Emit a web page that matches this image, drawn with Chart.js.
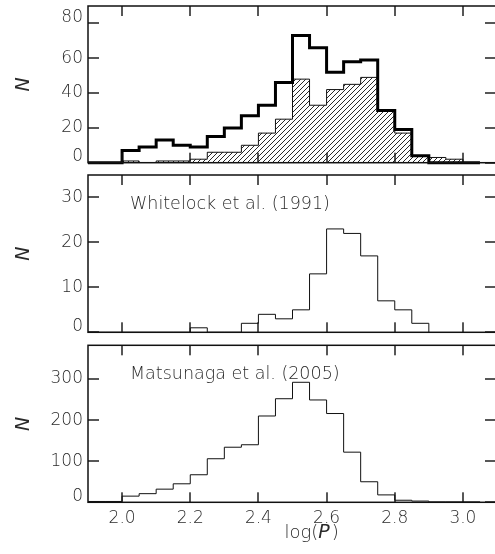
<!DOCTYPE html>
<html><head><meta charset="utf-8">
<script src="https://cdn.jsdelivr.net/npm/chart.js@4.4.1/dist/chart.umd.min.js"></script>
<style>
html,body{margin:0;padding:0;background:#fff;overflow:hidden;width:495px;height:554px}
.wrap{position:absolute;left:0;width:497px}
canvas{display:block}
</style></head><body>
<div class="wrap" style="top:0"><canvas id="c1" width="497" height="170"></canvas></div>
<div class="wrap" style="top:170px"><canvas id="c2" width="497" height="170"></canvas></div>
<div class="wrap" style="top:340px"><canvas id="c3" width="497" height="214"></canvas></div>
<script>
// ---- data (bins of log P, left edges) ----
const binEdges = [1.90,1.95,2.00,2.05,2.10,2.15,2.20,2.25,2.30,2.35,2.40,2.45,2.50,2.55,2.60,2.65,2.70,2.75,2.80,2.85,2.90,2.95,3.00,3.05];
const xTickValues = [2.0,2.2,2.4,2.6,2.8,3.0];
// top panel: all stars (thick outline) and hatched subsample
const allCounts     = [0,0,7,9,13,10,9,15,20,27,33,46,73,66,52,58,59,30,19,4,0,0,0];
const hatchedCounts = [0,0,1,0,1,1,2,6,6,10,17,25,48,33,42,45,49,30,17,4,3,2];
// middle panel: Whitelock et al. (1991)
const whitelockCounts = [0,0,0,0,0,0,1,0,0,2,4,3,5,13,23,22,17,7,5,2];
// bottom panel: Matsunaga et al. (2005)
const matsunagaCounts = [2,2,15,21,32,45,67,106,134,140,210,252,292,249,216,122,50,18,5,3,1,1,1];
const yTicksTop = [0,20,40,60,80];
const yTicksMid = [0,10,20,30];
const yTicksBot = [0,100,200,300];
const yMaxTop = 90, yMaxMid = 35, yMaxBot = 382;
const noteMid = 'Whitelock et al. (1991)';
const noteBot = 'Matsunaga et al. (2005)';
const yTitle = 'N';

// ---- helpers ----
const FAM = "'DejaVu Sans', 'Liberation Sans', sans-serif";
const TXT = '#2a2a2a';
function stepPoints(counts){
  const pts = [{x: binEdges[0], y: 0}];
  counts.forEach((c, i) => pts.push({x: binEdges[i], y: c}));
  pts.push({x: binEdges[counts.length], y: 0});
  return pts;
}
function makeHatch(){
  const pc = document.createElement('canvas'); pc.width = 5; pc.height = 5;
  const p = pc.getContext('2d');
  p.strokeStyle = '#111'; p.lineWidth = 0.9;
  p.beginPath();
  p.moveTo(0,5); p.lineTo(5,0);
  p.moveTo(-1,1); p.lineTo(1,-1);
  p.moveTo(4,6); p.lineTo(6,4);
  p.stroke();
  return document.getElementById('c1').getContext('2d').createPattern(pc, 'repeat');
}

const panelCfg = {};   // per-canvas tick values / notes

const frameTicks = {
  id: 'frameTicks',
  afterDraw(chart){
    const cfg = panelCfg[chart.canvas.id];
    const ctx = chart.ctx, a = chart.chartArea;
    const x = chart.scales.x, y = chart.scales.y;
    ctx.save();
    ctx.fillStyle = '#111';
    for (const v of xTickValues){
      const px = Math.round(x.getPixelForValue(v));
      ctx.fillRect(px - 0.7, a.bottom - 10, 1.4, 10);
      ctx.fillRect(px - 0.7, a.top, 1.4, 10);
    }
    for (const v of cfg.yTicks){
      const py = Math.round(y.getPixelForValue(v));
      ctx.fillRect(a.left, py - 0.7, 11, 1.4);
      ctx.fillRect(a.right - 12, py - 0.7, 12, 1.4);
    }
    ctx.strokeStyle = '#111'; ctx.lineWidth = 1.5;
    ctx.strokeRect(a.left, a.top, a.right - a.left, a.bottom - a.top);
    if (cfg.note){
      ctx.fillStyle = TXT;
      ctx.font = `200 17.5px ${FAM}`;
      ctx.textBaseline = 'alphabetic'; ctx.textAlign = 'left';
      ctx.fillText(cfg.note, a.left + 42, a.top + 33.5);
    }
    if (cfg.showX){
      ctx.fillStyle = TXT; ctx.textBaseline = 'alphabetic'; ctx.textAlign = 'left';
      const f1 = `200 18px ${FAM}`, f2 = `italic 200 19px ${FAM}`;
      ctx.font = f1; const w1 = ctx.measureText('log(').width, w3 = ctx.measureText(')').width;
      ctx.font = f2; const w2 = ctx.measureText('P').width;
      const cx = (x.getPixelForValue(2.5) + x.getPixelForValue(2.6)) / 2 + 2;
      let sx = cx - (w1 + w2 + w3 + 2) / 2; const by = a.bottom + 36;
      ctx.font = f1; ctx.fillText('log(', sx, by); sx += w1;
      ctx.font = f2; ctx.fillText('P', sx, by); sx += w2 + 2;
      ctx.font = f1; ctx.fillText(')', sx, by);
    }
    ctx.restore();
  }
};

function makePanel(id, datasets, yMax, yTicks, raised, padTop, padBottom, showX, note){
  panelCfg[id] = {yTicks, note, showX};
  return new Chart(document.getElementById(id), {
    type: 'line',
    data: {datasets},
    options: {
      responsive: false, animation: false,
      layout: {autoPadding: false, padding: {top: padTop, bottom: padBottom, left: 0, right: 0}},
      elements: {point: {radius: 0}, line: {tension: 0}},
      plugins: {legend: {display: false}, tooltip: {enabled: false}},
      scales: {
        x: {type: 'linear', min: 1.9, max: 3.1, display: showX,
          afterBuildTicks: s => { s.ticks = xTickValues.map(v => ({value: v})); },
          afterFit: s => { s.height = showX ? 51.7 : 0; s.paddingLeft = 0; s.paddingRight = 0; },
          grid: {display: false, drawTicks: false}, border: {display: false},
          ticks: {autoSkip: false, maxRotation: 0, padding: 6, color: TXT,
            font: {family: FAM, size: 17, weight: 200},
            callback: v => Number(v).toFixed(1)}},
        y: {type: 'linear', min: 0, max: yMax,
          afterBuildTicks: s => { s.ticks = yTicks.map(v => ({value: v})); },
          afterFit: s => { s.width = 88; s.paddingTop = 0; s.paddingBottom = 0; },
          grid: {display: false, drawTicks: false}, border: {display: false},
          ticks: {autoSkip: false, padding: 5, color: TXT,
            font: {family: FAM, size: 17, weight: 200, lineHeight: 0.7},
            callback: v => raised.includes(v) ? [String(v), ''] : String(v)},
          title: {display: true, text: yTitle, color: TXT,
            font: {family: FAM, size: 19, style: 'italic', weight: 200},
            padding: {top: 13, bottom: 0}}}
      }
    },
    plugins: [frameTicks]
  });
}

const hatch = makeHatch();
makePanel('c1', [
  {data: stepPoints(allCounts), stepped: 'before', borderColor: '#000', borderWidth: 3, fill: false, order: 0, clip: 4},
  {data: stepPoints(hatchedCounts), stepped: 'before', borderColor: '#111', borderWidth: 1, fill: 'origin', backgroundColor: hatch, order: 1}
], yMaxTop, yTicksTop, [0, 80], 6, 7.3, false, null);
makePanel('c2', [
  {data: stepPoints(whitelockCounts), stepped: 'before', borderColor: '#111', borderWidth: 1, fill: false}
], yMaxMid, yTicksMid, [0], 5, 7.7, false, noteMid);
makePanel('c3', [
  {data: stepPoints(matsunagaCounts), stepped: 'before', borderColor: '#111', borderWidth: 1, fill: false}
], yMaxBot, yTicksBot, [0], 5.3, 0, true, noteBot);
</script>
</body></html>
